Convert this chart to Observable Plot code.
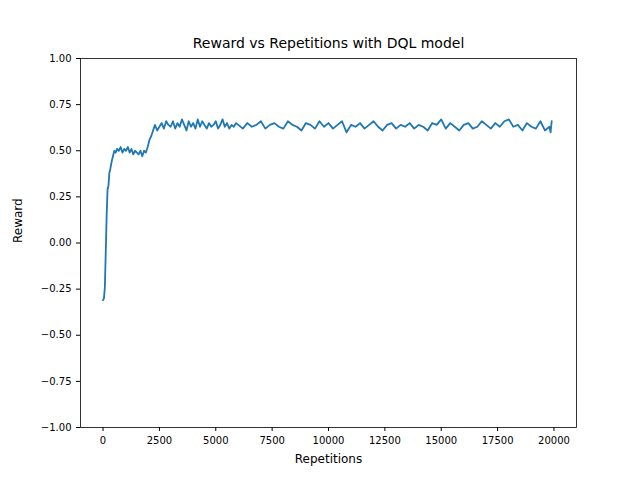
<!DOCTYPE html>
<html>
<head>
<meta charset="utf-8">
<script src="https://cdn.jsdelivr.net/npm/d3@7"></script>
<script src="https://cdn.jsdelivr.net/npm/@observablehq/plot@0.6"></script>
<style>body{margin:0;background:#fff;font-family:"DejaVu Sans",sans-serif}</style>
</head>
<body>
<div id="chart"></div>
<script>
// repetitions and rewards
const reps = [0, 40, 80, 120, 160, 200, 240, 280, 320, 380, 440, 500, 560, 620, 700, 780, 860, 940, 1020, 1100, 1180, 1260, 1340, 1420, 1500, 1580, 1660, 1740, 1820, 1900, 1980, 2060, 2140, 2220, 2300, 2400, 2500, 2600, 2700, 2800, 2900, 3000, 3100, 3200, 3300, 3400, 3500, 3600, 3700, 3800, 3900, 4000, 4100, 4200, 4300, 4400, 4500, 4600, 4700, 4800, 4900, 5000, 5100, 5200, 5300, 5400, 5500, 5600, 5700, 5800, 5900, 6000, 6200, 6400, 6600, 6800, 7000, 7200, 7400, 7600, 7800, 8000, 8200, 8400, 8600, 8800, 9000, 9200, 9400, 9600, 9800, 10000, 10200, 10400, 10600, 10800, 11000, 11200, 11400, 11600, 11800, 12000, 12200, 12400, 12600, 12800, 13000, 13200, 13400, 13600, 13800, 14000, 14200, 14400, 14600, 14800, 15000, 15200, 15400, 15600, 15800, 16000, 16200, 16400, 16600, 16800, 17000, 17200, 17400, 17600, 17800, 18000, 18200, 18400, 18600, 18800, 19000, 19200, 19400, 19600, 19800, 19850, 19900, 19950, 20000];
const reward = [-0.31, -0.30, -0.24, -0.05, 0.15, 0.29, 0.31, 0.38, 0.40, 0.44, 0.47, 0.50, 0.49, 0.51, 0.50, 0.52, 0.49, 0.51, 0.50, 0.52, 0.49, 0.51, 0.48, 0.50, 0.49, 0.48, 0.50, 0.47, 0.50, 0.49, 0.52, 0.56, 0.58, 0.61, 0.64, 0.61, 0.63, 0.65, 0.62, 0.66, 0.64, 0.63, 0.66, 0.62, 0.65, 0.63, 0.67, 0.64, 0.61, 0.66, 0.63, 0.65, 0.62, 0.67, 0.63, 0.66, 0.64, 0.62, 0.65, 0.63, 0.64, 0.66, 0.62, 0.64, 0.67, 0.63, 0.65, 0.62, 0.64, 0.63, 0.65, 0.64, 0.62, 0.65, 0.63, 0.64, 0.66, 0.62, 0.64, 0.65, 0.63, 0.62, 0.66, 0.64, 0.63, 0.61, 0.65, 0.64, 0.62, 0.66, 0.63, 0.65, 0.62, 0.64, 0.66, 0.60, 0.64, 0.63, 0.65, 0.62, 0.64, 0.66, 0.63, 0.61, 0.64, 0.65, 0.62, 0.64, 0.63, 0.65, 0.62, 0.64, 0.63, 0.61, 0.65, 0.64, 0.67, 0.62, 0.65, 0.63, 0.61, 0.64, 0.65, 0.62, 0.63, 0.66, 0.64, 0.62, 0.65, 0.63, 0.66, 0.67, 0.63, 0.64, 0.61, 0.65, 0.63, 0.62, 0.66, 0.61, 0.63, 0.60, 0.66];
const xTicks = [0, 2500, 5000, 7500, 10000, 12500, 15000, 17500, 20000];
const yTicks = [-1, -0.75, -0.5, -0.25, 0, 0.25, 0.5, 0.75, 1];

const data = reps.map((r, i) => ({rep: r, reward: reward[i]}));

const chart = Plot.plot({
  width: 640,
  height: 480,
  marginTop: 58,
  marginBottom: 53,
  marginLeft: 80,
  marginRight: 64,
  style: {fontFamily: "DejaVu Sans", fontSize: "10px", color: "#000"},
  x: {domain: [-1000, 21000], ticks: xTicks, tickFormat: d => String(d), label: null, tickSize: 4},
  y: {domain: [-1, 1], ticks: yTicks, tickFormat: d => d3.format(".2f")(d).replace("-", "\u2212"), label: null, tickSize: 4},
  marks: [
    Plot.frame({stroke: "#000", strokeWidth: 0.8}),
    Plot.line(data, {x: "rep", y: "reward", stroke: "#1f77b4", strokeWidth: 1.8}),
    Plot.text(["Reward vs Repetitions with DQL model"], {frameAnchor: "top", dy: -20, fontSize: 14, text: d => d}),
    Plot.text(["Repetitions"], {frameAnchor: "bottom", dy: 35, fontSize: 12, text: d => d}),
    Plot.text(["Reward"], {frameAnchor: "left", dx: -62, rotate: -90, fontSize: 12, text: d => d})
  ]
});
d3.select("#chart").append(() => chart);
</script>
</body>
</html>
